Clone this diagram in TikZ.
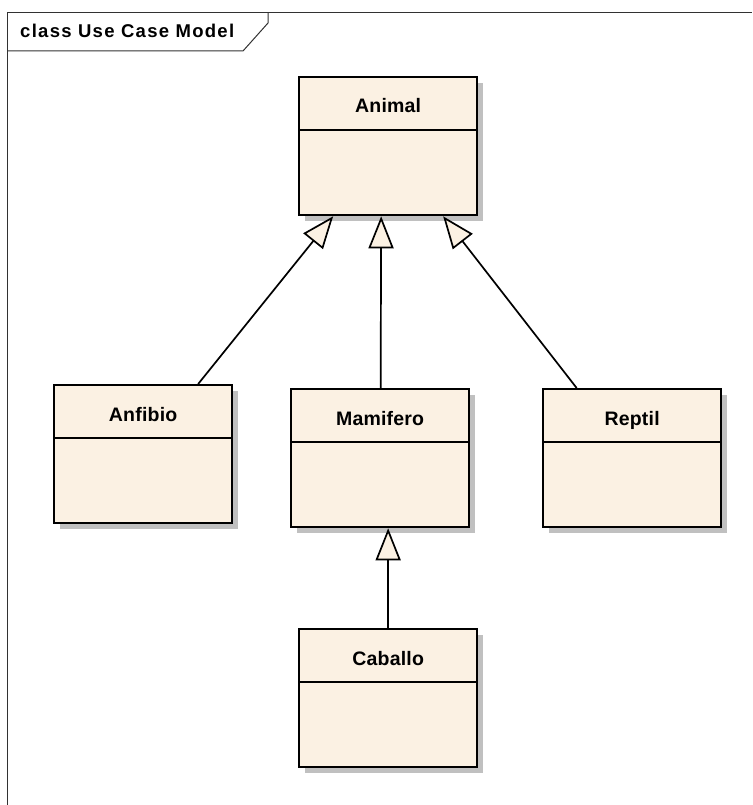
\documentclass[tikz,border=0pt]{standalone}
\usepackage{fontspec}
\setmainfont{Liberation Sans}
\newfontfamily\classfont{Liberation Sans}[LetterSpace=1]
\newfontfamily\titlefont{Liberation Sans}[LetterSpace=7]
\usetikzlibrary{arrows.meta,shadows,calc}
\definecolor{classfill}{RGB}{251,241,227}
\definecolor{shadowgray}{RGB}{192,192,192}
\definecolor{framegray}{RGB}{50,50,50}
\begin{document}
\begin{tikzpicture}[x=1pt,y=-1pt,
  umlclass/.style={draw=black, line width=2.3pt, fill=classfill,
    minimum width=178pt, minimum height=138pt, anchor=north west, inner sep=0pt,
    drop shadow={shadow xshift=6pt, shadow yshift=-6pt, fill=shadowgray, opacity=1}},
  divider/.style={line width=1.7pt},
  classname/.style={anchor=base, inner sep=0pt, font=\classfont\bfseries\fontsize{19.5}{21}\selectfont},
  generalization/.style={line width=1.7pt,
    -{Triangle[length=32pt, width=25pt, fill=classfill, line width=1.7pt]}},
  frameline/.style={draw=framegray, line width=1pt}]
\useasboundingbox (0,0) rectangle (752,805);

% diagram frame and its name tab
\draw[frameline] (7,805) -- (7,13) -- (752,13);
\draw[frameline] (7,51) -- (243,51) -- (268,23) -- (268,13);
\node[anchor=base west, inner sep=0pt, font=\titlefont\bfseries\fontsize{18.5}{20}\selectfont]
  (title) at (20,37.3) {class Use Case Model};

% classes
\node[umlclass] (animal)   at (298,76)  {};
\node[umlclass] (anfibio)  at (53,384)  {};
\node[umlclass] (mamifero) at (290,388) {};
\node[umlclass] (reptil)   at (542,388) {};
\node[umlclass] (caballo)  at (298,628) {};

% name compartments
\foreach \c/\t in {animal/Animal, anfibio/Anfibio, mamifero/Mamifero, reptil/Reptil, caballo/Caballo}{
  \draw[divider] ($(\c.north west)+(0,54)$) -- ($(\c.north east)+(0,54)$);
  \node[classname] (\c-name) at ($(\c.north)+(0,37)$) {\t};
}

% generalizations
\draw[generalization] ([xshift=55pt]anfibio.north) -- ([xshift=-55pt]animal.south);
\draw[generalization] ([xshift=0.5pt]mamifero.north) -- ([xshift=-7pt]animal.south);
\draw[generalization] ([xshift=-55.5pt]reptil.north) -- ([xshift=55pt]animal.south);
\draw[generalization] (caballo.north) -- ([xshift=8pt]mamifero.south);
\end{tikzpicture}
\end{document}
